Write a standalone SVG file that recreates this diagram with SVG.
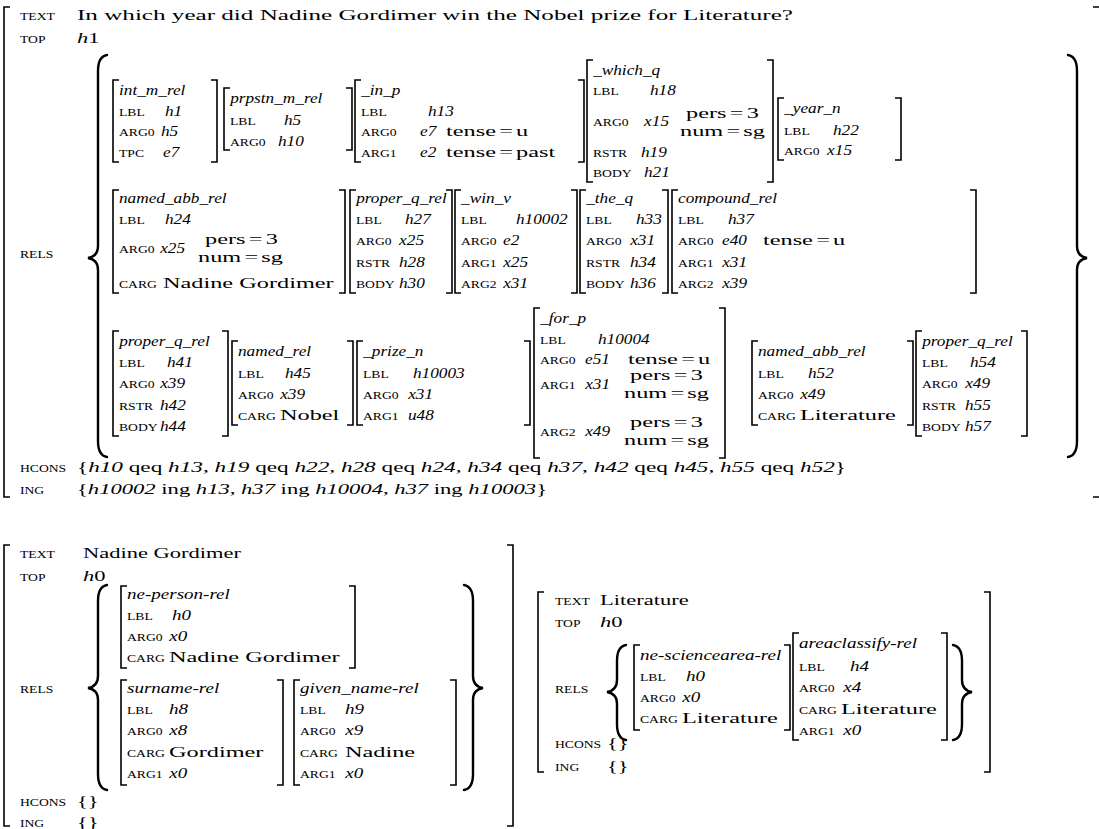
<svg xmlns="http://www.w3.org/2000/svg" width="1099" height="829" viewBox="0 0 1099 829">
<style>
text{font-family:"Liberation Serif","Times New Roman",serif;fill:#000;transform-box:fill-box;transform-origin:0 0}
.s{font-size:10.5px;transform:scaleX(1.3)}
.r{font-size:15px;transform:scaleX(1.62)}
.r2{font-size:15px;transform:scaleX(1.5)}
.i{font-size:15px;font-style:italic;transform:scaleX(1.15)}
.j{font-size:15px;font-style:italic;transform:scaleX(1.27)}
.t{font-size:15px}
.it{font-style:italic}
.b{fill:none;stroke:#000;stroke-width:1.6}
.br{fill:none;stroke:#000;stroke-width:2.4;stroke-linecap:round}
</style>
<rect width="1099" height="829" fill="#fff"/>
<g id="avm1">
<path class="b" d="M10,7 H4 V497 H10"/>
<path class="b" d="M1093,7 H1101 V497 H1093"/>
<text class="s" x="20" y="20">TEXT</text>
<text class="t" x="77" y="20" textLength="716" lengthAdjust="spacingAndGlyphs">In which year did Nadine Gordimer win the Nobel prize for Literature?</text>
<text class="s" x="20" y="43">TOP</text>
<text class="r2" x="77" y="43"><tspan class="it">h</tspan>1</text>
<text class="s" x="20" y="258">RELS</text>
<path class="br" d="M107,55 C101,56 98,61 98,71 V246 C98,253 94,257 88,258 C94,259 98,263 98,270 V441 C98,451 101,456 107,457"/>
<path class="br" d="M1068,55 C1074,56 1077,61 1077,71 V246 C1077,253 1081,257 1087,258 C1081,259 1077,263 1077,270 V441 C1077,451 1074,456 1068,457"/>
<g id="int_m_rel">
<path class="b" d="M119,80 H113 V162 H119 M211,80 H217 V162 H211"/>
<text class="i" x="119" y="95">int_m_rel</text>
<text class="s" x="119" y="116">LBL</text><text class="i" x="165" y="116">h1</text>
<text class="s" x="119" y="136">ARG0</text><text class="i" x="161" y="136">h5</text>
<text class="s" x="119" y="157">TPC</text><text class="i" x="163" y="157">e7</text>
</g>
<g id="prpstn_m_rel">
<path class="b" d="M230,88 H224 V150 H230 M346,88 H352 V150 H346"/>
<text class="i" x="230" y="103">prpstn_m_rel</text>
<text class="s" x="230" y="125">LBL</text><text class="i" x="284" y="125">h5</text>
<text class="s" x="230" y="146">ARG0</text><text class="i" x="278" y="146">h10</text>
</g>
<g id="in_p">
<path class="b" d="M361,80 H355 V162 H361 M578,80 H584 V162 H578"/>
<text class="i" x="361" y="95">_in_p</text>
<text class="s" x="361" y="116">LBL</text><text class="i" x="428" y="116">h13</text>
<text class="s" x="361" y="136">ARG0</text><text class="i" x="420" y="136">e7</text><text class="r" x="446" y="136">tense<tspan dx="2">=</tspan><tspan dx="2">u</tspan></text>
<text class="s" x="361" y="157">ARG1</text><text class="i" x="420" y="157">e2</text><text class="r" x="446" y="157">tense<tspan dx="2">=</tspan><tspan dx="2">past</tspan></text>
</g>
<g id="which_q">
<path class="b" d="M593,60 H587 V182 H593 M767,60 H773 V182 H767"/>
<text class="i" x="593" y="75">_which_q</text>
<text class="s" x="593" y="95">LBL</text><text class="i" x="650" y="95">h18</text>
<text class="s" x="593" y="126">ARG0</text><text class="i" x="644" y="126">x15</text>
<text class="r" x="686" y="118">pers<tspan dx="2">=</tspan><tspan dx="2">3</tspan></text>
<text class="r" x="680" y="136">num<tspan dx="2">=</tspan><tspan dx="2">sg</tspan></text>
<text class="s" x="593" y="157">RSTR</text><text class="i" x="641" y="157">h19</text>
<text class="s" x="593" y="177">BODY</text><text class="i" x="644" y="177">h21</text>
</g>
<g id="year_n">
<path class="b" d="M784,98 H778 V160 H784 M895,98 H901 V160 H895"/>
<text class="i" x="784" y="113">_year_n</text>
<text class="s" x="784" y="135">LBL</text><text class="i" x="833" y="135">h22</text>
<text class="s" x="784" y="155">ARG0</text><text class="i" x="827" y="155">x15</text>
</g>
<g id="named_abb_rel_1">
<path class="b" d="M119,190 H113 V293 H119 M339,190 H345 V293 H339"/>
<text class="i" x="119" y="203">named_abb_rel</text>
<text class="s" x="119" y="224">LBL</text><text class="i" x="165" y="224">h24</text>
<text class="s" x="119" y="253">ARG0</text><text class="i" x="160" y="253">x25</text>
<text class="r" x="205" y="244">pers<tspan dx="2">=</tspan><tspan dx="2">3</tspan></text>
<text class="r" x="198" y="262">num<tspan dx="2">=</tspan><tspan dx="2">sg</tspan></text>
<text class="s" x="119" y="288">CARG</text><text class="r" x="163" y="288">Nadine Gordimer</text>
</g>
<g id="proper_q_rel_1">
<path class="b" d="M356,190 H350 V293 H356 M446,190 H452 V293 H446"/>
<text class="i" x="356" y="203">proper_q_rel</text>
<text class="s" x="356" y="224">LBL</text><text class="i" x="405" y="224">h27</text>
<text class="s" x="356" y="245">ARG0</text><text class="i" x="399" y="245">x25</text>
<text class="s" x="356" y="267">RSTR</text><text class="i" x="399" y="267">h28</text>
<text class="s" x="356" y="288">BODY</text><text class="i" x="399" y="288">h30</text>
</g>
<g id="win_v">
<path class="b" d="M461,190 H455 V293 H461 M571,190 H577 V293 H571"/>
<text class="i" x="461" y="203">_win_v</text>
<text class="s" x="461" y="224">LBL</text><text class="i" x="516" y="224">h10002</text>
<text class="s" x="461" y="245">ARG0</text><text class="i" x="503" y="245">e2</text>
<text class="s" x="461" y="267">ARG1</text><text class="i" x="503" y="267">x25</text>
<text class="s" x="461" y="288">ARG2</text><text class="i" x="503" y="288">x31</text>
</g>
<g id="the_q">
<path class="b" d="M586,190 H580 V293 H586 M662,190 H668 V293 H662"/>
<text class="i" x="586" y="203">_the_q</text>
<text class="s" x="586" y="224">LBL</text><text class="i" x="636" y="224">h33</text>
<text class="s" x="586" y="245">ARG0</text><text class="i" x="630" y="245">x31</text>
<text class="s" x="586" y="267">RSTR</text><text class="i" x="630" y="267">h34</text>
<text class="s" x="586" y="288">BODY</text><text class="i" x="630" y="288">h36</text>
</g>
<g id="compound_rel">
<path class="b" d="M678,190 H672 V293 H678 M970,190 H976 V293 H970"/>
<text class="i" x="678" y="203">compound_rel</text>
<text class="s" x="678" y="224">LBL</text><text class="i" x="728" y="224">h37</text>
<text class="s" x="678" y="245">ARG0</text><text class="i" x="722" y="245">e40</text><text class="r" x="763" y="245">tense<tspan dx="2">=</tspan><tspan dx="2">u</tspan></text>
<text class="s" x="678" y="267">ARG1</text><text class="i" x="722" y="267">x31</text>
<text class="s" x="678" y="288">ARG2</text><text class="i" x="722" y="288">x39</text>
</g>
<g id="proper_q_rel_2">
<path class="b" d="M119,331 H113 V436 H119 M222,331 H228 V436 H222"/>
<text class="i" x="119" y="346">proper_q_rel</text>
<text class="s" x="119" y="367">LBL</text><text class="i" x="167" y="367">h41</text>
<text class="s" x="119" y="388">ARG0</text><text class="i" x="160" y="388">x39</text>
<text class="s" x="119" y="410">RSTR</text><text class="i" x="160" y="410">h42</text>
<text class="s" x="119" y="431">BODY</text><text class="i" x="160" y="431">h44</text>
</g>
<g id="named_rel">
<path class="b" d="M238,341 H232 V425 H238 M347,341 H353 V425 H347"/>
<text class="i" x="238" y="356">named_rel</text>
<text class="s" x="238" y="378">LBL</text><text class="i" x="285" y="378">h45</text>
<text class="s" x="238" y="399">ARG0</text><text class="i" x="280" y="399">x39</text>
<text class="s" x="238" y="420">CARG</text><text class="r" x="280" y="420">Nobel</text>
</g>
<g id="prize_n">
<path class="b" d="M363,341 H357 V425 H363 M524,341 H530 V425 H524"/>
<text class="i" x="363" y="356">_prize_n</text>
<text class="s" x="363" y="378">LBL</text><text class="i" x="413" y="378">h10003</text>
<text class="s" x="363" y="399">ARG0</text><text class="i" x="408" y="399">x31</text>
<text class="s" x="363" y="420">ARG1</text><text class="i" x="408" y="420">u48</text>
</g>
<g id="for_p">
<path class="b" d="M540,308 H534 V458 H540 M719,308 H725 V458 H719"/>
<text class="i" x="540" y="323">_for_p</text>
<text class="s" x="540" y="344">LBL</text><text class="i" x="598" y="344">h10004</text>
<text class="s" x="540" y="364">ARG0</text><text class="i" x="585" y="364">e51</text><text class="r" x="628" y="364">tense<tspan dx="2">=</tspan><tspan dx="2">u</tspan></text>
<text class="s" x="540" y="389">ARG1</text><text class="i" x="585" y="389">x31</text>
<text class="r" x="630" y="380">pers<tspan dx="2">=</tspan><tspan dx="2">3</tspan></text>
<text class="r" x="624" y="398">num<tspan dx="2">=</tspan><tspan dx="2">sg</tspan></text>
<text class="s" x="540" y="436">ARG2</text><text class="i" x="585" y="436">x49</text>
<text class="r" x="630" y="427">pers<tspan dx="2">=</tspan><tspan dx="2">3</tspan></text>
<text class="r" x="624" y="445">num<tspan dx="2">=</tspan><tspan dx="2">sg</tspan></text>
</g>
<g id="named_abb_rel_2">
<path class="b" d="M758,341 H752 V425 H758 M907,341 H913 V425 H907"/>
<text class="i" x="758" y="356">named_abb_rel</text>
<text class="s" x="758" y="378">LBL</text><text class="i" x="808" y="378">h52</text>
<text class="s" x="758" y="399">ARG0</text><text class="i" x="800" y="399">x49</text>
<text class="s" x="758" y="420">CARG</text><text class="r" x="800" y="420">Literature</text>
</g>
<g id="proper_q_rel_3">
<path class="b" d="M922,331 H916 V436 H922 M1021,331 H1027 V436 H1021"/>
<text class="i" x="922" y="346">proper_q_rel</text>
<text class="s" x="922" y="367">LBL</text><text class="i" x="970" y="367">h54</text>
<text class="s" x="922" y="388">ARG0</text><text class="i" x="965" y="388">x49</text>
<text class="s" x="922" y="410">RSTR</text><text class="i" x="965" y="410">h55</text>
<text class="s" x="922" y="431">BODY</text><text class="i" x="965" y="431">h57</text>
</g>
<text class="s" x="20" y="472">HCONS</text>
<text class="t" x="77" y="472" textLength="769" lengthAdjust="spacingAndGlyphs">{<tspan class="it">h10</tspan> qeq <tspan class="it">h13</tspan>, <tspan class="it">h19</tspan> qeq <tspan class="it">h22</tspan>, <tspan class="it">h28</tspan> qeq <tspan class="it">h24</tspan>, <tspan class="it">h34</tspan> qeq <tspan class="it">h37</tspan>, <tspan class="it">h42</tspan> qeq <tspan class="it">h45</tspan>, <tspan class="it">h55</tspan> qeq <tspan class="it">h52</tspan>}</text>
<text class="s" x="20" y="494">ING</text>
<text class="t" x="77" y="494" textLength="470" lengthAdjust="spacingAndGlyphs">{<tspan class="it">h10002</tspan> ing <tspan class="it">h13</tspan>, <tspan class="it">h37</tspan> ing <tspan class="it">h10004</tspan>, <tspan class="it">h37</tspan> ing <tspan class="it">h10003</tspan>}</text>
</g>
<g id="avm2">
<path class="b" d="M10,545 H4 V826 H10 M507,545 H513 V826 H507"/>
<text class="s" x="20" y="558">TEXT</text><text class="r2" x="83" y="558">Nadine Gordimer</text>
<text class="s" x="20" y="581">TOP</text><text class="r2" x="83" y="581"><tspan class="it">h</tspan>0</text>
<text class="s" x="20" y="693">RELS</text>
<path class="br" d="M107,585 C101,586 98,591 98,601 V676 C98,683 94,687 88,688 C94,689 98,693 98,700 V774 C98,784 101,789 107,790"/>
<path class="br" d="M464,585 C470,586 473,591 473,601 V676 C473,683 477,687 483,688 C477,689 473,693 473,700 V774 C473,784 470,789 464,790"/>
<g id="ne_person_rel">
<path class="b" d="M127,586 H121 V668 H127 M349,586 H355 V668 H349"/>
<text class="j" x="127" y="599">ne-person-rel</text>
<text class="s" x="127" y="620">LBL</text><text class="j" x="172" y="620">h0</text>
<text class="s" x="127" y="641">ARG0</text><text class="j" x="169" y="641">x0</text>
<text class="s" x="127" y="662">CARG</text><text class="r" x="169" y="662">Nadine Gordimer</text>
</g>
<g id="surname_rel">
<path class="b" d="M127,680 H121 V785 H127 M277,680 H283 V785 H277"/>
<text class="j" x="127" y="693">surname-rel</text>
<text class="s" x="127" y="714">LBL</text><text class="j" x="169" y="714">h8</text>
<text class="s" x="127" y="735">ARG0</text><text class="j" x="169" y="735">x8</text>
<text class="s" x="127" y="757">CARG</text><text class="r" x="169" y="757">Gordimer</text>
<text class="s" x="127" y="778">ARG1</text><text class="j" x="169" y="778">x0</text>
</g>
<g id="given_name_rel">
<path class="b" d="M300,680 H294 V785 H300 M450,680 H456 V785 H450"/>
<text class="j" x="300" y="693">given_name-rel</text>
<text class="s" x="300" y="714">LBL</text><text class="j" x="345" y="714">h9</text>
<text class="s" x="300" y="735">ARG0</text><text class="j" x="345" y="735">x9</text>
<text class="s" x="300" y="757">CARG</text><text class="r" x="345" y="757">Nadine</text>
<text class="s" x="300" y="778">ARG1</text><text class="j" x="345" y="778">x0</text>
</g>
<text class="s" x="20" y="806">HCONS</text><text class="r2" x="77" y="806">{}</text>
<text class="s" x="20" y="827">ING</text><text class="r2" x="77" y="827">{}</text>
</g>
<g id="avm3">
<path class="b" d="M544,592 H538 V772 H544 M984,592 H990 V772 H984"/>
<text class="s" x="555" y="605">TEXT</text><text class="r2" x="600" y="605">Literature</text>
<text class="s" x="555" y="627">TOP</text><text class="r2" x="600" y="627"><tspan class="it">h</tspan>0</text>
<text class="s" x="555" y="693">RELS</text>
<path class="br" d="M626,645 C620,646 617,651 617,661 V680 C617,687 613,691 607,692 C613,693 617,697 617,704 V724 C617,734 620,739 626,740"/>
<path class="br" d="M953,645 C959,646 962,651 962,661 V680 C962,687 966,691 972,692 C966,693 962,697 962,704 V724 C962,734 959,739 953,740"/>
<g id="ne_sciencearea_rel">
<path class="b" d="M640,645 H634 V730 H640 M784,645 H790 V730 H784"/>
<text class="j" x="640" y="660">ne-sciencearea-rel</text>
<text class="s" x="640" y="681">LBL</text><text class="j" x="686" y="681">h0</text>
<text class="s" x="640" y="702">ARG0</text><text class="j" x="682" y="702">x0</text>
<text class="s" x="640" y="723">CARG</text><text class="r" x="682" y="723">Literature</text>
</g>
<g id="areaclassify_rel">
<path class="b" d="M799,633 H793 V740 H799 M941,633 H947 V740 H941"/>
<text class="j" x="799" y="648">areaclassify-rel</text>
<text class="s" x="799" y="671">LBL</text><text class="j" x="850" y="671">h4</text>
<text class="s" x="799" y="692">ARG0</text><text class="j" x="843" y="692">x4</text>
<text class="s" x="799" y="714">CARG</text><text class="r" x="841" y="714">Literature</text>
<text class="s" x="799" y="735">ARG1</text><text class="j" x="843" y="735">x0</text>
</g>
<text class="s" x="555" y="748">HCONS</text><text class="r2" x="607" y="748">{}</text>
<text class="s" x="555" y="771">ING</text><text class="r2" x="607" y="771">{}</text>
</g>
</svg>
